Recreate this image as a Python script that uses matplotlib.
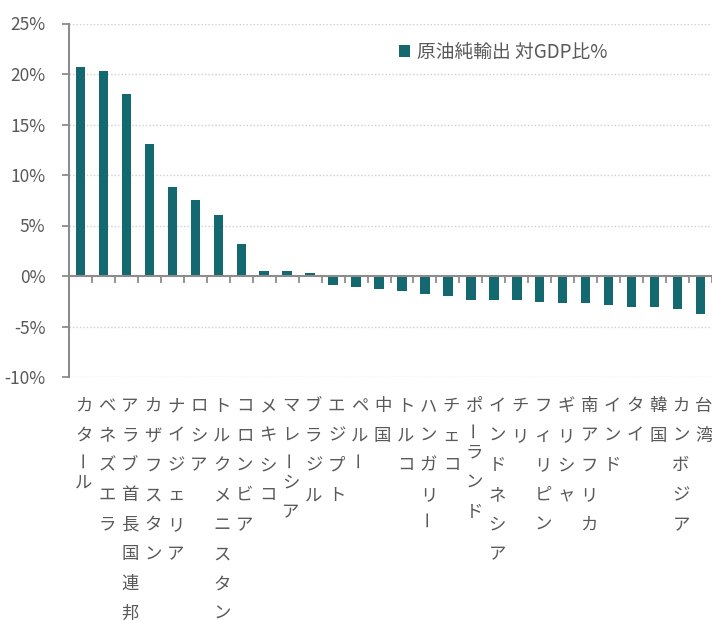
import matplotlib
matplotlib.use("Agg")
import matplotlib.pyplot as plt
import matplotlib.transforms as mtransforms
from matplotlib.ticker import FuncFormatter, FixedLocator

plt.rcParams['font.family'] = ['Noto Sans CJK JP', 'DejaVu Sans']

categories = ["カタール", "ベネズエラ", "アラブ首長国連邦", "カザフスタン", "ナイジェリア",
              "ロシア", "トルクメニスタン", "コロンビア", "メキシコ", "マレーシア",
              "ブラジル", "エジプト", "ペルー", "中国", "トルコ", "ハンガリー", "チェコ",
              "ポーランド", "インドネシア", "チリ", "フィリピン", "ギリシャ", "南アフリカ",
              "インド", "タイ", "韓国", "カンボジア", "台湾"]
values = [20.7, 20.3, 18.0, 13.1, 8.8, 7.5, 6.0, 3.2, 0.45, 0.45,
          0.25, -0.85, -1.05, -1.25, -1.45, -1.8, -2.0, -2.35, -2.35, -2.35,
          -2.55, -2.7, -2.7, -2.9, -3.1, -3.1, -3.3, -3.8]
series_name = "原油純輸出 対GDP比%"
yticks = [-10, -5, 0, 5, 10, 15, 20, 25]

BAR = "#14686F"
TXT = "#595959"
AXC = "#8c8c8c"

W, H = 712, 620
fig = plt.figure(figsize=(W / 100, H / 100), dpi=100)
ax = fig.add_axes([69 / W, 1 - 377 / H, 1 - 69 / W, (377 - 23.5) / H])

x = list(range(len(categories)))
bars = ax.bar(x, values, width=0.41, color=BAR, zorder=3, label=series_name)

ax.set_xlim(-0.5, len(categories) - 0.5)
ax.set_ylim(-10, 25)
ax.yaxis.set_major_locator(FixedLocator(yticks))
ax.yaxis.set_major_formatter(FuncFormatter(lambda v, p: f"{v:.0f}%"))
ax.tick_params(axis='y', direction='out', length=5, width=1.3, color=AXC,
               labelsize=12.5, labelcolor=TXT, pad=12)

# grid
for v in yticks:
    if v != 0:
        ax.axhline(v, color="#cfcfcf", lw=1.0, ls=(0, (1, 1.5)), zorder=1)

for s in ['top', 'right']:
    ax.spines[s].set_visible(False)
ax.spines['left'].set_color(AXC)
ax.spines['left'].set_linewidth(1.5)
ax.spines['bottom'].set_position(('data', 0))
ax.spines['bottom'].set_color(AXC)
ax.spines['bottom'].set_linewidth(1.5)
ax.spines['bottom'].set_zorder(4)

ax.xaxis.set_major_locator(FixedLocator([i + 0.5 for i in range(len(categories))]))
ax.xaxis.set_major_formatter(FuncFormatter(lambda v, p: ""))
ax.tick_params(axis='x', direction='out', length=5, width=1.3, color=AXC)

# vertical category labels, one character per line
trans = mtransforms.blended_transform_factory(ax.transData, fig.transFigure) + \
    mtransforms.ScaledTranslation(3.5 / 100, 0, fig.dpi_scale_trans)
step = 29.7
for i, lab in enumerate(categories):
    pos = 406.0
    prev_adv = None
    for ch in lab:
        adv = 17.0 if ch == "ー" else step
        if prev_adv is not None:
            pos += (prev_adv + adv) / 2
        prev_adv = adv
        ax.text(i, 1 - pos / H, ch, transform=trans, ha='center', va='center',
                rotation=90 if ch == "ー" else 0, fontsize=12.5, color=TXT,
                clip_on=False)

leg = ax.legend(handles=[bars], labels=[series_name], loc='center left',
                bbox_to_anchor=(399 / W, 1 - 52 / H), bbox_transform=fig.transFigure,
                frameon=False, fontsize=13.5, handlelength=0.6, handleheight=0.6,
                handletextpad=0.35, borderpad=0, borderaxespad=0)
for t in leg.get_texts():
    t.set_color(TXT)

fig.savefig("out.png", dpi=100)
